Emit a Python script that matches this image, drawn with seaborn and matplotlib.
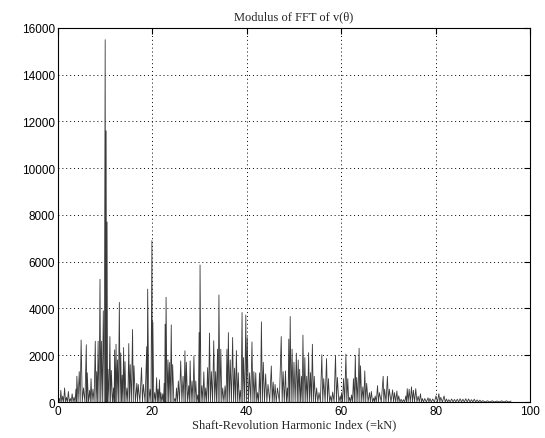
import numpy as np
import pandas as pd
import matplotlib
matplotlib.use("Agg")
import matplotlib.pyplot as plt
import seaborn as sns

# spike positions (harmonic index) and heights
spike_x = [0.0, 0.3, 0.6, 1.0, 1.4, 1.8, 2.2, 2.6, 3.0, 3.4, 3.8, 4.0, 4.5, 4.9, 5.4,
           6.0, 6.2, 6.7, 7.0, 7.4, 7.9, 8.2, 8.5, 8.9, 9.2, 9.6, 10.0, 10.2, 10.4, 10.6,
           11.0, 11.3, 11.8, 12.0, 12.3, 12.6, 13.0, 13.3, 13.6, 13.9, 14.2, 14.6, 15.0,
           15.3, 15.8, 16.1, 16.7, 17.0, 17.7, 18.1, 18.8, 19.0, 19.5, 19.9, 20.1, 20.5,
           20.9, 21.2, 21.5, 21.8, 22.2, 22.5, 22.7, 22.9, 23.3, 23.6, 24.0, 24.3, 24.8,
           25.1, 25.5, 26.0, 26.5, 26.9, 27.2, 27.7, 28.0, 28.4, 28.8, 29.2, 29.6, 29.9,
           30.1, 30.5, 30.9, 31.3, 31.7, 32.1, 32.5, 33.0, 33.4, 33.8, 34.1, 34.5, 34.9,
           35.4, 35.8, 36.1, 36.5, 37.0, 37.4, 37.8, 38.2, 38.6, 39.0, 39.3, 39.8, 40.1,
           40.6, 41.1, 41.5, 41.9, 42.3, 42.7, 43.1, 43.5, 44.0, 44.5, 45.2, 45.6, 46.0,
           46.5, 47.3, 47.7, 48.2, 48.6, 48.9, 49.2, 49.6, 50.0, 50.5, 50.9, 51.2, 51.6,
           51.9, 52.3, 52.7, 53.1, 53.5, 53.9, 54.3, 54.8, 55.3, 55.9, 56.3, 56.9, 57.3,
           57.8, 58.2, 58.8, 59.2, 59.8, 60.1, 60.5, 61.0, 61.4, 61.8, 62.2, 62.6, 63.0,
           63.3, 63.8, 64.1, 64.6, 65.0, 65.4, 66.0, 66.4, 66.9, 67.2, 67.7, 68.1, 68.9,
           69.2, 69.8, 70.2, 70.9, 71.3, 71.8, 72.2, 72.7, 73.2, 73.7, 74.0, 74.4, 74.9,
           75.3, 75.8, 76.3, 76.8, 77.2, 77.7, 78.4, 78.8, 79.4, 80.1, 80.7, 81.1, 81.8,
           82.3, 82.8, 83.4, 84.0, 84.6, 85.2, 85.8, 86.4, 87.0, 87.6, 88.2, 88.8, 89.4,
           90.0, 91.0, 92.0, 93.0, 94.0, 95.0, 96.0]
spike_h = [300, 150, 500, 250, 600, 200, 450, 150, 350, 200, 550, 1100, 1300, 2650, 600,
           2450, 1250, 500, 1000, 550, 2600, 1300, 2600, 5250, 2600, 3900, 15500, 11600, 7700, 1400,
           2800, 1350, 600, 2230, 2470, 1800, 4260, 2100, 1150, 2330, 1730, 600, 2500,
           1600, 3100, 1550, 800, 750, 1470, 750, 2370, 4830, 550, 6900, 3430, 400,
           1040, 550, 950, 400, 350, 800, 3330, 4480, 1800, 1690, 3300, 1600, 150,
           600, 900, 1760, 1100, 2190, 1700, 700, 1760, 900, 1970, 900, 300, 2970,
           5860, 700, 1290, 600, 1470, 2950, 1300, 2620, 1300, 2260, 4580, 2260, 600,
           690, 2260, 2970, 1800, 2760, 1450, 2200, 1250, 500, 3830, 1900, 3720, 2760,
           1250, 2570, 1300, 1250, 400, 1250, 3430, 1700, 1200, 750, 1540, 850, 750,
           600, 2800, 1300, 1330, 600, 2690, 3660, 2260, 1700, 2090, 1800, 1400, 1100,
           2860, 1900, 1100, 2110, 1260, 2470, 1100, 600, 400, 2020, 1000, 1860, 1000,
           260, 430, 2000, 1050, 260, 400, 1000, 2050, 1000, 200, 300, 1000, 2000,
           1050, 2300, 1550, 650, 1330, 800, 400, 450, 170, 260, 700, 400, 1100,
           550, 1100, 550, 520, 400, 470, 260, 120, 100, 260, 570, 550, 650,
           500, 570, 250, 350, 150, 150, 180, 150, 130, 260, 355, 200, 260,
           130, 100, 130, 110, 120, 140, 120, 140, 130, 100, 120, 90, 80,
           60, 50, 50, 40, 50, 50, 40]

x_ticks = [0, 20, 40, 60, 80, 100]
y_ticks = [0, 2000, 4000, 6000, 8000, 10000, 12000, 14000, 16000]

# line drops back to zero between neighbouring spikes
xs, ys = [], []
for i in range(len(spike_x)):
    xs.append(spike_x[i])
    ys.append(spike_h[i])
    if i < len(spike_x) - 1:
        xs.append((spike_x[i] + spike_x[i + 1]) / 2)
        ys.append(0)
df = pd.DataFrame({"k": xs, "mag": ys})

sns.set_style("white")
plt.rcParams["font.family"] = ["Liberation Sans", "DejaVu Sans"]

fig = plt.figure(figsize=(5.45, 4.39), dpi=100)
ax = fig.add_axes([0.1064, 0.082, 0.866, 0.852])

sns.lineplot(data=df, x="k", y="mag", estimator=None, sort=False,
             color="#3a3a3a", linewidth=0.6, ax=ax)

ax.set_xlim(0, 100)
ax.set_ylim(0, 16000)
ax.set_xticks(x_ticks)
ax.set_yticks(y_ticks)
ax.tick_params(direction="in", top=True, right=True, length=4, width=0.8,
               labelsize=8.5, colors="black", pad=2)
ax.grid(True, linestyle=(0, (1, 3)), color="black", linewidth=0.7)
for s in ax.spines.values():
    s.set_color("black")
    s.set_linewidth(0.8)

ax.set_title("Modulus of FFT of v(\u03b8)", family=["Liberation Serif", "DejaVu Serif"],
             fontsize=9, pad=6)
ax.set_xlabel("Shaft-Revolution Harmonic Index (=kN)",
              family=["Liberation Serif", "DejaVu Serif"], fontsize=9, labelpad=1)
ax.set_ylabel("")

fig.savefig("out.png", dpi=100)
